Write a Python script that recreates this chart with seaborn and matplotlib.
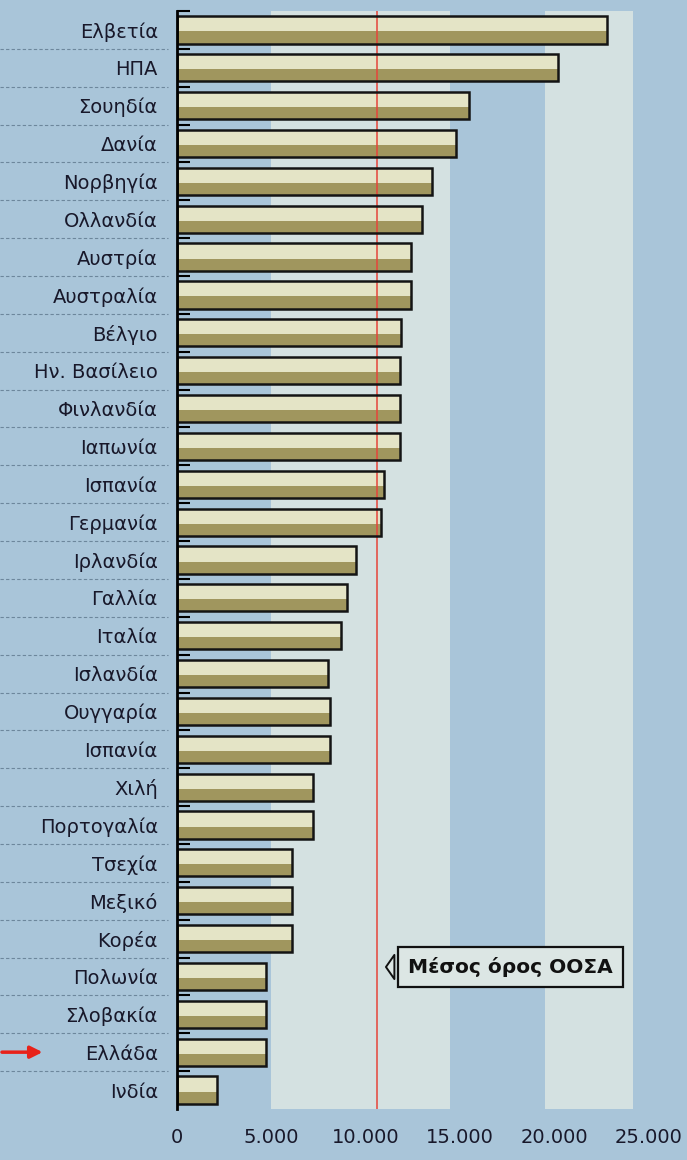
import numpy as np
import pandas as pd
import seaborn as sns
import matplotlib.pyplot as plt
import matplotlib.transforms as mtransforms

sns.set_theme(style="white")
plt.rcParams["font.family"] = ["DejaVu Sans"]

# data (spending per student, in the original currency units)
countries = [
    "Ελβετία", "ΗΠΑ", "Σουηδία", "Δανία", "Νορβηγία", "Ολλανδία", "Αυστρία",
    "Αυστραλία", "Βέλγιο", "Ην. Βασίλειο", "Φινλανδία", "Ιαπωνία", "Ισπανία",
    "Γερμανία", "Ιρλανδία", "Γαλλία", "Ιταλία", "Ισλανδία", "Ουγγαρία",
    "Ισπανία", "Χιλή", "Πορτογαλία", "Τσεχία", "Μεξικό", "Κορέα", "Πολωνία",
    "Σλοβακία", "Ελλάδα", "Ινδία",
]
values = [
    22800, 20200, 15500, 14800, 13500, 13000, 12400,
    12400, 11900, 11800, 11800, 11800, 11000,
    10800, 9500, 9000, 8700, 8000, 8100,
    8100, 7200, 7200, 6100, 6100, 6100, 4700,
    4700, 4700, 2100,
]
oecd_avg = 10600
oecd_label = "Μέσος όρος ΟΟΣΑ"
highlight = "Ελλάδα"
x_ticks = [0, 5000, 10000, 15000, 20000, 25000]
x_tick_labels = ["0", "5.000", "10.000", "15.000", "20.000", "25.000"]
bands = [(5000, 14500), (19500, 24200)]

BG = "#a9c5d9"
BAND = "#d4e1e1"
CREAM = "#e4e4c6"
OLIVE = "#a0965e"
INK = "#18182a"

df = pd.DataFrame(dict(key=[str(i) for i in range(len(countries))],
                       country=countries, value=values))
n = len(df)
pos = np.arange(n)

fig = plt.figure(figsize=(6.87, 11.6), dpi=100, facecolor=BG)
ax = fig.add_axes([0.258, 0.044, 0.6856, 0.9465])
ax.set_facecolor(BG)

for lo, hi in bands:
    ax.axvspan(lo, hi, color=BAND, zorder=0, lw=0)

# bars: cream body, olive lower stripe, black outline
sns.barplot(data=df, x="value", y="key", order=df.key, color=CREAM,
            width=0.72, saturation=1, edgecolor="none", ax=ax, zorder=2)
ax.barh(pos + 0.2, df.value, height=0.32, color=OLIVE, lw=0, zorder=3)
ax.barh(pos, df.value, height=0.72, fill=False, edgecolor="#141414",
        lw=1.8, zorder=4)

ax.axvline(oecd_avg, color="#e5453a", lw=1.3, alpha=0.85, zorder=3.5)

ax.set_xlim(0, 25000)
ax.set_ylim(n - 0.5, -0.5)
ax.set_xticks(x_ticks)
ax.set_xticklabels(x_tick_labels, fontsize=14, color=INK)
ax.set_yticks(pos)
ax.set_yticklabels(df.country, fontsize=14, color=INK)
ax.set_yticks(np.arange(n) - 0.5, minor=True)
ax.tick_params(axis="y", which="major", length=0, pad=14)
ax.tick_params(axis="y", which="minor", direction="in", length=9,
               width=1.5, color="black", left=True)
ax.tick_params(axis="x", length=0, pad=14)
ax.set_xlabel("")
ax.set_ylabel("")

sns.despine(ax=ax, top=True, right=True, bottom=True)
ax.spines["left"].set_color("black")
ax.spines["left"].set_linewidth(2)
ax.spines["left"].set_zorder(5)

# dashed separators in the label margin
blend = mtransforms.blended_transform_factory(ax.transAxes, ax.transData)
for b in pos[:-1] + 0.5:
    ax.plot([-0.376, -0.02], [b, b], transform=blend, ls=(0, (3, 2)),
            color="#6d879c", lw=0.8, clip_on=False)

# red arrow pointing at Greece
gi = countries.index(highlight)
ax.annotate("", xy=(-0.28, gi), xytext=(-0.378, gi), xycoords=blend,
            textcoords=blend,
            arrowprops=dict(arrowstyle="-|>,head_length=0.6,head_width=0.3",
                            color="#e8221a", lw=2.5))

# OECD average callout
ax.annotate(oecd_label, xy=(oecd_avg + 330, 24.75), xytext=(12250, 24.75),
            ha="left", va="center", fontsize=14.5, fontweight="bold",
            color="#111111", zorder=6,
            bbox=dict(boxstyle="square,pad=0.5", fc="#dce6e4",
                      ec="#111111", lw=1.6),
            arrowprops=dict(arrowstyle="wedge,tail_width=1.2,shrink_factor=0.5",
                            fc="#dce6e4", ec="#111111", lw=1.4))

fig.savefig("out.png", dpi=100, facecolor=BG)
